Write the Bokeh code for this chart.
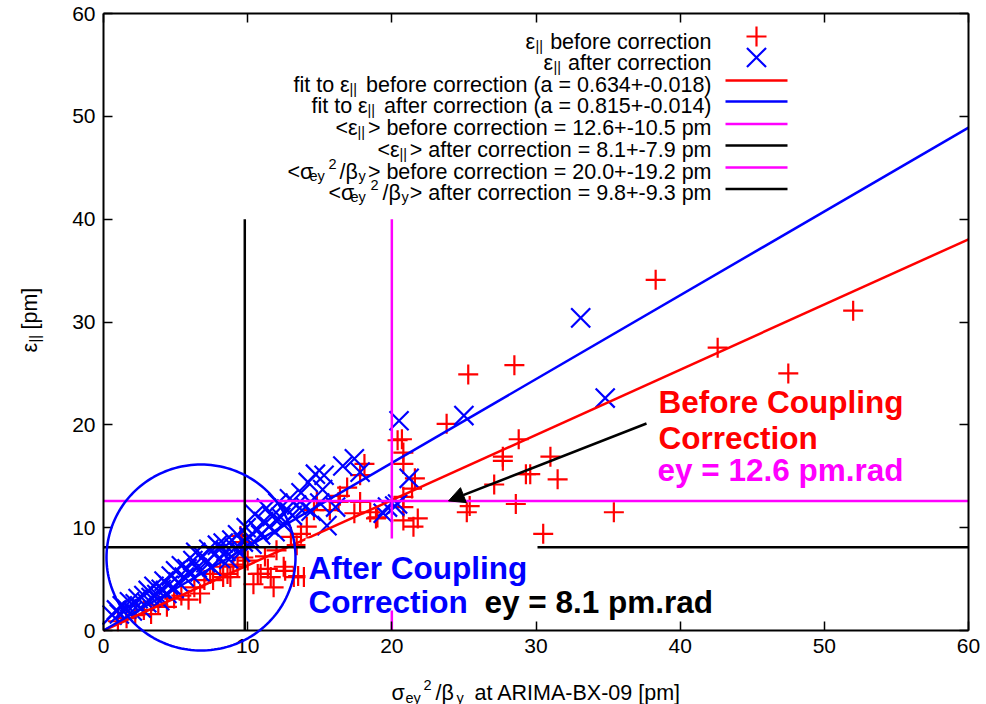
import numpy as np
from bokeh.plotting import figure
from bokeh.models import (Range1d, Label, Arrow, NormalHead, BoxAnnotation,
                          PolyAnnotation, LinearAxis, FixedTicker)
from bokeh.embed import file_html
from bokeh.resources import INLINE

# sigma_ey^2/beta_y at ARIMA-BX-09 [pm] vs. emittance [pm], before coupling correction
before_x = [1.0, 1.6, 2.2, 2.8, 3.3, 3.8, 4.4, 4.9, 5.4, 5.9, 6.3, 6.7, 7.0, 7.4, 7.6,
            8.1, 8.3, 8.6, 8.8, 9.0, 9.3, 9.5, 9.6, 9.7, 10.0, 10.4, 10.7, 10.9, 11.2,
            11.4, 11.6, 11.8, 12.0, 12.5, 12.6, 13.0, 13.2, 13.4, 13.5, 13.7, 13.9,
            14.1, 14.6, 14.8, 15.7, 16.3, 16.4, 16.9, 17.4, 17.8, 17.8, 18.1, 18.5,
            18.9, 19.0, 20.4, 20.7, 20.8, 20.8, 20.8, 20.8, 20.8, 21.4, 21.5, 21.6,
            21.8, 23.8, 25.2, 25.3, 25.4, 27.1, 27.7, 27.7, 28.5, 28.6, 28.8, 29.3,
            29.6, 30.5, 31.0, 31.5, 35.4, 38.3, 42.6, 47.5, 52.0]
before_y = [0.9, 1.2, 1.5, 2.0, 1.6, 2.5, 2.3, 3.1, 3.4, 3.0, 4.2, 3.6, 4.9, 5.5, 4.9,
            6.2, 5.2, 5.5, 5.2, 6.4, 6.2, 9.2, 8.6, 7.1, 6.8, 4.5, 5.5, 5.5, 7.2,
            6.0, 5.2, 4.2, 7.8, 6.2, 5.8, 9.1, 5.2, 8.3, 5.3, 9.4, 5.2,
            10.1, 11.7, 12.6, 11.7, 12.5, 13.1, 13.9, 11.4, 12.5, 15.1, 16.2, 11.5,
            10.9, 11.0, 18.5, 18.6, 17.3, 16.2, 13.0, 12.0, 10.7, 13.8, 10.1, 14.8,
            10.9, 20.1, 11.5, 24.9, 12.1, 14.2, 16.9, 16.5, 25.8, 12.3, 18.6, 15.2,
            15.2, 9.4, 16.9, 14.7, 11.5, 34.1, 27.5, 25.0, 31.1]

# same quantities after coupling correction
after_x = [0.6, 0.9, 1.1, 1.3, 1.6, 1.8, 2.0, 2.2, 2.4, 2.6, 2.8, 3.0, 3.1, 3.3, 3.5,
           3.7, 3.9, 4.0, 4.2, 4.4, 4.5, 4.7, 4.9, 5.0, 5.2, 5.4, 5.6, 5.8, 6.0, 6.2,
           6.4, 6.5, 6.7, 6.9, 7.1, 7.3, 7.5, 7.7, 7.9, 8.1, 8.3, 8.5, 8.7, 8.9, 9.1,
           9.3, 9.5, 9.7, 9.9, 10.1, 10.3, 10.5, 10.7, 10.9, 11.1, 11.3, 11.5, 11.7,
           11.9, 12.1, 12.3, 12.5, 12.7, 12.9, 13.1, 13.4, 13.7, 14.0, 14.2, 14.4,
           14.7, 15.0, 15.2, 15.3, 15.5, 16.1, 16.6, 17.4, 17.8, 19.4, 19.7, 20.2,
           20.4, 20.5, 21.2, 25.0, 33.1, 34.8]
after_y = [1.5, 2.0, 1.6, 2.4, 2.1, 2.8, 1.9, 2.6, 3.1, 2.2, 3.4, 2.7, 3.9, 3.2, 4.3,
           3.5, 2.9, 4.0, 4.8, 3.6, 4.4, 5.3, 4.1, 5.8, 4.7, 6.3, 5.2, 6.0, 5.5, 6.8,
           7.6, 6.1, 5.7, 7.2, 6.6, 7.9, 6.2, 7.4, 8.3, 7.0, 8.5, 7.7, 6.9, 8.8, 8.0,
           9.3, 7.6, 8.6, 10.0, 9.1, 8.4, 11.3, 9.8, 9.3, 10.6, 11.9, 10.1, 11.1,
           9.6, 12.4, 11.0, 10.3, 11.8, 12.8, 11.2, 12.2, 13.4, 12.0, 14.4, 11.6,
           15.2, 12.4, 13.7, 15.1, 10.2, 12.0, 16.0, 16.7, 15.4, 11.4, 12.0, 12.1,
           12.3, 20.4, 14.8, 20.9, 30.4, 22.6]

# fitted slopes and averages
slope_before = 0.634
slope_after = 0.815
mean_eps_before = 12.6
mean_eps_after = 8.1
mean_sig_before = 20.0
mean_sig_after = 9.8

ticks = [0, 10, 20, 30, 40, 50, 60]
x_span = [0, 60]
mean_line_top = 40

FONT = "Liberation Sans"
RED, BLUE, MAGENTA, BLACK = "#ff0000", "#0000ff", "#ff00ff", "#000000"

# page and plot-box geometry in pixels; the canvas is one big frame so that
# titles and the highlight circle may sit outside the axis box
W, H = 986, 704
BL, BR, BT, BB = 103, 968, 13, 630
XMAX, YMAX = 60.0, 60.0


def dx(px):
    return (px - BL) / (BR - BL) * XMAX


def dy(py):
    return (BB - py) / (BB - BT) * YMAX


p = figure(width=W, height=H, x_range=Range1d(dx(0), dx(W)), y_range=Range1d(dy(H), dy(0)),
           output_backend="svg", toolbar_location=None, min_border=0)
p.background_fill_color = "white"
p.border_fill_color = "white"
p.outline_line_color = None
p.xgrid.visible = False
p.ygrid.visible = False


def style_axis(ax, labels=True):
    ax.ticker = FixedTicker(ticks=ticks)
    ax.bounds = (0, 60)
    ax.major_tick_in = 9
    ax.major_tick_out = 0
    ax.minor_tick_line_color = None
    ax.axis_line_width = 2
    ax.major_tick_line_width = 1.5
    ax.major_label_text_font = FONT
    ax.major_label_text_font_size = "21px"
    ax.major_label_text_color = BLACK if labels else None
    ax.major_label_standoff = 8


p.xaxis[0].fixed_location = 0
p.yaxis[0].fixed_location = 0
style_axis(p.xaxis[0])
style_axis(p.yaxis[0])

# mirrored ticks on top and right
for side in ("above", "right"):
    mirror = LinearAxis(fixed_location=60)
    style_axis(mirror, labels=False)
    p.add_layout(mirror, side)

# data points
p.scatter(before_x, before_y, marker="cross", size=20, line_color=RED, line_width=2.2)
p.scatter(after_x, after_y, marker="x", size=27, line_color=BLUE, line_width=2.2)

# linear fits
xs = np.array(x_span, dtype=float)
p.line(xs, slope_before * xs, line_color=RED, line_width=2.5)
p.line(xs, slope_after * xs, line_color=BLUE, line_width=2.5)

# averages
p.line(x_span, [mean_eps_before] * 2, line_color=MAGENTA, line_width=2.5)
p.line(x_span, [mean_eps_after] * 2, line_color=BLACK, line_width=2.5)
p.segment(x0=[mean_sig_before], y0=[0], x1=[mean_sig_before], y1=[mean_line_top],
          line_color=MAGENTA, line_width=2.5)
p.segment(x0=[mean_sig_after], y0=[0], x1=[mean_sig_after], y1=[mean_line_top],
          line_color=BLACK, line_width=2.5)


def txt(px, py, s, size=21.5, color=BLACK, align="left", bold=False, angle=0.0):
    p.add_layout(Label(x=dx(px), y=dy(py), text=s, text_font=FONT,
                       text_font_size=f"{size}px", text_color=color,
                       text_align=align, text_baseline="alphabetic",
                       text_font_style="bold" if bold else "normal", angle=angle))


# key
SUB = 14.5
key_right = 711
txt(525, 41, "ε"); txt(535, 45, "||", SUB); txt(key_right, 41, "before correction", align="right")
txt(543, 62, "ε"); txt(553, 66, "||", SUB); txt(key_right, 62, "after correction", align="right")
txt(293, 84, "fit to ε"); txt(349, 88, "||", SUB)
txt(key_right, 84, "before correction (a = 0.634+-0.018)", align="right")
txt(311, 105, "fit to ε"); txt(367, 109, "||", SUB)
txt(key_right, 105, "after correction (a = 0.815+-0.014)", align="right")
txt(335, 127, "<ε"); txt(357, 131, "||", SUB)
txt(key_right, 127, "> before correction = 12.6+-10.5 pm", align="right")
txt(377, 149, "<ε"); txt(399, 153, "||", SUB)
txt(key_right, 149, "> after correction = 8.1+-7.9 pm", align="right")
txt(287, 171, "<σ"); txt(309, 175, "ey", SUB); txt(328, 163, "2", SUB); txt(339, 171, "/β")
txt(358, 175, "y", SUB); txt(key_right, 171, "> before correction = 20.0+-19.2 pm", align="right")
txt(328, 192, "<σ"); txt(350, 196, "ey", SUB); txt(370, 184, "2", SUB); txt(382, 192, "/β")
txt(401, 196, "y", SUB); txt(key_right, 192, "> after correction = 9.8+-9.3 pm", align="right")

key_x0, key_x1, key_mid = dx(725), dx(787), dx(756)
p.scatter([key_mid], [dy(36)], marker="cross", size=20, line_color=RED, line_width=2.2)
p.scatter([key_mid], [dy(57)], marker="x", size=27, line_color=BLUE, line_width=2.2)
for py, col in ((80, RED), (101, BLUE), (123.5, MAGENTA), (145, BLACK),
                (167, MAGENTA), (188.5, BLACK)):
    p.line([key_x0, key_x1], [dy(py)] * 2, line_color=col, line_width=2.5)

# highlight circle around the corrected cluster
theta = np.linspace(0, 2 * np.pi, 181)
cx, cy, rx, ry = 200.5, 557.0, 94.5, 93.0
p.add_layout(PolyAnnotation(xs=list(dx(cx + rx * np.cos(theta))),
                            ys=list(dy(cy + ry * np.sin(theta))),
                            fill_color=None, fill_alpha=0, line_color=BLUE,
                            line_alpha=1.0, line_width=2.5))

# arrow towards the pre-correction average
p.add_layout(Arrow(end=NormalHead(size=16, fill_color=BLACK, line_color=BLACK),
                   x_start=dx(646), y_start=dy(423), x_end=dx(448), y_end=mean_eps_before,
                   line_color=BLACK, line_width=2.5))

# callouts
p.add_layout(BoxAnnotation(left=dx(305), right=dx(537), top=dy(538), bottom=dy(610),
                           fill_color="white", fill_alpha=1.0, line_color=None))
BIG = 31.5
txt(658, 401, "Before Coupling", BIG, RED, bold=True)
txt(658, 437, "Correction", BIG, RED, bold=True)
txt(657, 469, "ey = 12.6 pm.rad", BIG, MAGENTA, bold=True)
txt(308, 567, "After Coupling", BIG, BLUE, bold=True)
txt(308, 601, "Correction", BIG, BLUE, bold=True)
txt(484, 601, "ey = 8.1 pm.rad", BIG, BLACK, bold=True)

# axis titles
txt(391, 692, "σ"); txt(405, 697, "ey", SUB); txt(423, 684, "2", SUB); txt(435, 692, "/β")
txt(456, 697, "y", SUB); txt(474, 692, "at ARIMA-BX-09 [pm]")
rot = np.pi / 2
txt(29, 352, "ε", angle=rot); txt(34, 342, "||", SUB, angle=rot); txt(29, 329, "[pm]", angle=rot)

open("out.html", "w").write(file_html(p, INLINE))
